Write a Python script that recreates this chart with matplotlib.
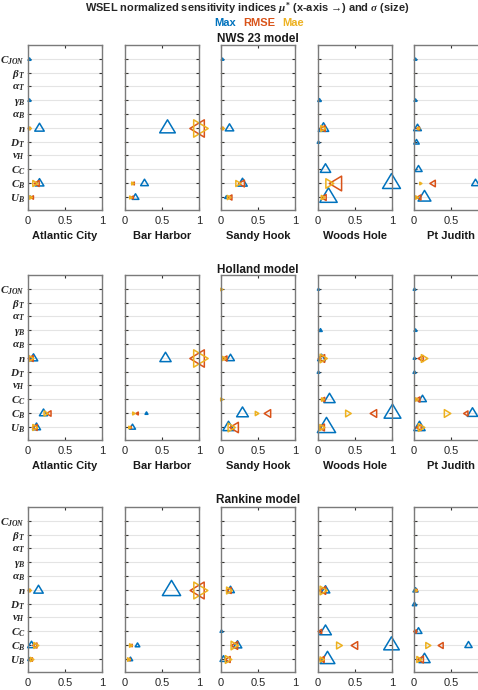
import matplotlib
matplotlib.use('Agg')
import matplotlib.pyplot as plt
from matplotlib.path import Path

plt.rcParams['mathtext.fontset'] = 'custom'
plt.rcParams['mathtext.it'] = 'Liberation Serif:italic:bold'
plt.rcParams['mathtext.rm'] = 'Liberation Serif:bold'
plt.rcParams['mathtext.bf'] = 'Liberation Serif:bold'
plt.rcParams['font.family'] = ['Liberation Sans', 'DejaVu Sans']

# ---------------- data ----------------
params = [r'$C_{JON}$', r'$\beta_{T}$', r'$\alpha_{T}$', r'$\gamma_{B}$', r'$\alpha_{B}$', r'$n$',
          r'$D_{T}$', r'$\nu_{H}$', r'$C_{C}$', r'$C_{B}$', r'$U_{B}$']
stations = ['Atlantic City', 'Bar Harbor', 'Sandy Hook', 'Woods Hole', 'Pt Judith']
models = ['NWS 23 model', 'Holland model', 'Rankine model']
metrics = ['Max', 'RMSE', 'Mae']
xticks = [0, 0.5, 1]
xticklabels = ['0', '0.5', '1']

# order of each row: C_JON, beta_T, alpha_T, gamma_B, alpha_B, n, D_T, nu_H, C_C, C_B, U_B
# ---- NWS 23 ----
nws_max_mu = [[0.01, 0, 0, 0.01, 0, 0.15, 0, 0, 0, 0.15, 0.03],
              [0, 0, 0, 0, 0, 0.57, 0, 0, 0, 0.26, 0.135],
              [0.01, 0, 0, 0, 0, 0.11, 0, 0, 0, 0.28, 0.07],
              [0, 0, 0, 0.02, 0, 0.07, 0.0, 0, 0.09, 0.99, 0.14],
              [0.01, 0, 0, 0.02, 0, 0.04, 0.03, 0, 0.05, 0.82, 0.14]]
nws_max_sig = [[0.12, 0, 0, 0.12, 0, 0.5, 0, 0, 0, 0.46, 0.1],
               [0, 0, 0, 0, 0, 0.85, 0, 0, 0, 0.4, 0.34],
               [0.1, 0, 0, 0, 0, 0.44, 0, 0, 0, 0.5, 0.15],
               [0, 0, 0, 0.15, 0, 0.55, 0.1, 0, 0.55, 0.98, 0.95],
               [0.1, 0, 0, 0.12, 0, 0.4, 0.27, 0, 0.37, 0.4, 0.69]]
nws_rmse_mu = [[0, 0, 0, 0, 0, 0.02, 0, 0, 0, 0.12, 0.05],
               [0, 0, 0, 0, 0, 1.0, 0, 0, 0, 0.11, 0.09],
               [0, 0, 0, 0, 0, 0.02, 0, 0, 0, 0.28, 0.12],
               [0, 0, 0, 0, 0, 0.07, 0, 0, 0, 0.25, 0.08],
               [0, 0, 0, 0, 0, 0.06, 0, 0, 0, 0.26, 0.07]]
nws_rmse_sig = [[0, 0, 0, 0, 0, 0.1, 0, 0, 0, 0.3, 0.15],
                [0, 0, 0, 0, 0, 0.95, 0, 0, 0, 0.12, 0.12],
                [0, 0, 0, 0, 0, 0.1, 0, 0, 0, 0.35, 0.25],
                [0, 0, 0, 0, 0, 0.3, 0, 0, 0, 0.8, 0.3],
                [0, 0, 0, 0, 0, 0.15, 0, 0, 0, 0.33, 0.25]]
nws_mae_mu = [[0, 0, 0, 0, 0, 0.02, 0, 0, 0, 0.08, 0.03],
              [0, 0, 0, 0, 0, 0.98, 0, 0, 0, 0.1, 0.07],
              [0, 0, 0, 0, 0, 0.02, 0, 0, 0, 0.22, 0.1],
              [0, 0, 0, 0, 0, 0.06, 0, 0, 0, 0.14, 0.05],
              [0, 0, 0, 0, 0, 0.05, 0, 0, 0, 0.08, 0.03]]
nws_mae_sig = [[0, 0, 0, 0, 0, 0.15, 0, 0, 0, 0.3, 0.15],
               [0, 0, 0, 0, 0, 0.95, 0, 0, 0, 0.12, 0.12],
               [0, 0, 0, 0, 0, 0.15, 0, 0, 0, 0.3, 0.2],
               [0, 0, 0, 0, 0, 0.3, 0, 0, 0, 0.5, 0.2],
               [0, 0, 0, 0, 0, 0.1, 0, 0, 0, 0.1, 0.15]]

# ---- Holland ----
hol_max_mu = [[0, 0, 0, 0, 0, 0.07, 0, 0, 0, 0.2, 0.11],
              [0, 0, 0, 0, 0, 0.54, 0, 0, 0, 0.29, 0.1],
              [0, 0, 0, 0, 0, 0.12, 0, 0, 0, 0.28, 0.09],
              [0, 0, 0, 0.03, 0, 0.04, 0.0, 0, 0.15, 1.0, 0.11],
              [0.0, 0, 0, 0.02, 0, 0.0, 0.0, 0, 0.11, 0.79, 0.07]]
hol_max_sig = [[0, 0, 0, 0, 0, 0.44, 0, 0, 0, 0.42, 0.42],
               [0, 0, 0, 0, 0, 0.6, 0, 0, 0, 0.12, 0.3],
               [0, 0, 0, 0, 0, 0.4, 0, 0, 0, 0.63, 0.6],
               [0.08, 0, 0, 0.15, 0, 0.4, 0.1, 0, 0.6, 0.92, 1.0],
               [0.1, 0, 0, 0.12, 0, 0.1, 0.12, 0, 0.4, 0.55, 0.6]]
hol_rmse_mu = [[0, 0, 0, 0, 0, 0.04, 0, 0, 0, 0.29, 0.1],
               [0, 0, 0, 0, 0, 1.0, 0, 0, 0, 0.16, 0.07],
               [0, 0, 0, 0, 0, 0.05, 0, 0, 0, 0.64, 0.19],
               [0, 0, 0, 0, 0, 0.05, 0, 0, 0.07, 0.75, 0.06],
               [0, 0, 0, 0, 0, 0.1, 0, 0, 0.05, 0.7, 0.07]]
hol_rmse_sig = [[0, 0, 0, 0, 0, 0.3, 0, 0, 0, 0.27, 0.3],
                [0, 0, 0, 0, 0, 0.95, 0, 0, 0, 0.12, 0.1],
                [0, 0, 0, 0, 0, 0.25, 0, 0, 0, 0.4, 0.55],
                [0, 0, 0, 0, 0, 0.4, 0, 0, 0.2, 0.4, 0.35],
                [0, 0, 0, 0, 0, 0.3, 0, 0, 0.25, 0.25, 0.3]]
hol_mae_mu = [[0, 0, 0, 0, 0, 0.03, 0, 0, 0, 0.23, 0.08],
              [0, 0, 0, 0, 0, 0.99, 0, 0, 0, 0.11, 0.05],
              [0.0, 0, 0, 0, 0, 0.03, 0, 0, 0.0, 0.47, 0.12],
              [0, 0, 0, 0, 0, 0.06, 0, 0, 0.05, 0.39, 0.04],
              [0, 0, 0, 0, 0, 0.12, 0, 0, 0.03, 0.43, 0.08]]
hol_mae_sig = [[0, 0, 0, 0, 0, 0.3, 0, 0, 0, 0.25, 0.3],
               [0, 0, 0, 0, 0, 0.95, 0, 0, 0, 0.12, 0.1],
               [0.1, 0, 0, 0, 0, 0.2, 0, 0, 0.12, 0.2, 0.45],
               [0, 0, 0, 0, 0, 0.45, 0, 0, 0.15, 0.34, 0.3],
               [0, 0, 0, 0, 0, 0.4, 0, 0, 0.15, 0.4, 0.4]]

# ---- Rankine ----
ran_max_mu = [[0, 0, 0, 0, 0, 0.14, 0, 0, 0, 0.04, 0.02],
              [0, 0, 0, 0, 0, 0.62, 0, 0, 0, 0.16, 0.07],
              [0, 0, 0, 0, 0, 0.12, 0, 0, 0.0, 0.21, 0.03],
              [0, 0, 0, 0, 0, 0.09, 0, 0, 0.1, 0.99, 0.12],
              [0, 0, 0, 0, 0, 0.02, 0.0, 0, 0.05, 0.73, 0.13]]
ran_max_sig = [[0, 0, 0, 0, 0, 0.5, 0, 0, 0, 0.4, 0.15],
               [0, 0, 0, 0, 0, 1.0, 0, 0, 0, 0.22, 0.2],
               [0, 0, 0, 0, 0, 0.4, 0, 0, 0.12, 0.45, 0.35],
               [0, 0, 0, 0, 0, 0.45, 0, 0, 0.63, 0.85, 0.8],
               [0, 0, 0, 0, 0, 0.25, 0.2, 0, 0.35, 0.37, 0.6]]
ran_rmse_mu = [[0, 0, 0, 0, 0, 0.02, 0, 0, 0, 0.09, 0.04],
               [0, 0, 0, 0, 0, 1.0, 0, 0, 0, 0.08, 0.05],
               [0, 0, 0, 0, 0, 0.11, 0, 0, 0, 0.19, 0.09],
               [0, 0, 0, 0, 0, 0.07, 0, 0, 0.03, 0.5, 0.06],
               [0, 0, 0, 0, 0, 0.03, 0, 0, 0.02, 0.36, 0.09]]
ran_rmse_sig = [[0, 0, 0, 0, 0, 0.1, 0, 0, 0, 0.25, 0.15],
                [0, 0, 0, 0, 0, 0.92, 0, 0, 0, 0.1, 0.1],
                [0, 0, 0, 0, 0, 0.3, 0, 0, 0, 0.4, 0.3],
                [0, 0, 0, 0, 0, 0.4, 0, 0, 0.2, 0.4, 0.3],
                [0, 0, 0, 0, 0, 0.1, 0, 0, 0.15, 0.3, 0.35]]
ran_mae_mu = [[0, 0, 0, 0, 0, 0.02, 0, 0, 0, 0.1, 0.04],
              [0, 0, 0, 0, 0, 0.98, 0, 0, 0, 0.07, 0.04],
              [0, 0, 0, 0, 0, 0.1, 0, 0, 0, 0.16, 0.08],
              [0, 0, 0, 0, 0, 0.05, 0, 0, 0, 0.27, 0.04],
              [0, 0, 0, 0, 0, 0.02, 0, 0, 0, 0.18, 0.05]]
ran_mae_sig = [[0, 0, 0, 0, 0, 0.15, 0, 0, 0, 0.3, 0.2],
               [0, 0, 0, 0, 0, 0.92, 0, 0, 0, 0.15, 0.15],
               [0, 0, 0, 0, 0, 0.35, 0, 0, 0, 0.45, 0.4],
               [0, 0, 0, 0, 0, 0.45, 0, 0, 0, 0.35, 0.25],
               [0, 0, 0, 0, 0, 0.15, 0, 0, 0, 0.3, 0.3]]

model_data = [
    [(nws_max_mu, nws_max_sig), (nws_rmse_mu, nws_rmse_sig), (nws_mae_mu, nws_mae_sig)],
    [(hol_max_mu, hol_max_sig), (hol_rmse_mu, hol_rmse_sig), (hol_mae_mu, hol_mae_sig)],
    [(ran_max_mu, ran_max_sig), (ran_rmse_mu, ran_rmse_sig), (ran_mae_mu, ran_mae_sig)],
]

# ---------------- style ----------------
colors = ['#0072BD', '#D95319', '#EDB120']


def tri(verts):
    # closed triangle centred on its centroid (so '<' and '>' overlap into a star, like MATLAB)
    return Path(verts + [verts[0]], closed=True)


markers = [tri([(0, 1), (-0.9, -0.5), (0.9, -0.5)]),
           tri([(-1, 0), (0.5, 0.9), (0.5, -0.9)]),
           tri([(1, 0), (-0.5, 0.9), (-0.5, -0.9)])]
W, H = 478, 690
col_left = [28, 125, 221, 318, 414]
col_w = 74
row_top = [45, 275, 507]
row_h = 165
model_title_y = [39, 270, 500]

fig = plt.figure(figsize=(W / 100, H / 100), dpi=100)

fig.text(247 / W, 1 - 9 / H,
         'WSEL normalized sensitivity indices $\\mu^{*}$ (x-axis \u2192) and $\\sigma$ (size)',
         ha='center', va='center', fontsize=7.9, fontweight='bold', color='#262626')
for lbl, xc, c in zip(metrics, [225, 259, 293], colors):
    fig.text(xc / W, 1 - 22.5 / H, lbl, ha='center', va='center', fontsize=8,
             fontweight='bold', color=c)

ypos = list(range(1, len(params) + 1))

for r, model in enumerate(models):
    fig.text(258 / W, 1 - model_title_y[r] / H, model, ha='center', va='center',
             fontsize=8.5, fontweight='bold', color='#1a1a1a')
    for c, st in enumerate(stations):
        ax = fig.add_axes([col_left[c] / W, 1 - (row_top[r] + row_h) / H, col_w / W, row_h / H])
        for m in range(3):
            mu, sig = model_data[r][m]
            for i in range(len(params)):
                s = sig[c][i]
                ax.plot(mu[c][i], ypos[i], marker=markers[m], ms=0.6 + 14.0 * s,
                        mfc='none', mec=colors[m], mew=1.1 if s > 0.05 else 0.5,
                        ls='none', clip_on=False, zorder=2)
        ax.set_xlim(0, 1)
        ax.set_ylim(11.95, 0)
        ax.set_xticks(xticks)
        if c == len(stations) - 1:
            ax.set_xticklabels(xticklabels[:-1] + [''])
        else:
            ax.set_xticklabels(xticklabels)
        ax.set_yticks(ypos)
        if c == 0:
            ax.set_yticklabels(params, fontsize=11)
        else:
            ax.set_yticklabels([])
        ax.yaxis.grid(True, color='#e4e4e4', lw=0.8)
        ax.set_axisbelow(True)
        ax.tick_params(direction='in', top=True, right=True, length=2.5, width=0.8,
                       color='#333333', labelsize=8, labelcolor='#262626', pad=2)
        ax.tick_params(axis='x', pad=4)
        for sp in ax.spines.values():
            sp.set_color('#7a7a7a')
            sp.set_linewidth(1.0)
            sp.set_zorder(2.5)
        if r < 2:
            ax.set_xlabel(st, fontsize=8, fontweight='bold', labelpad=4, color='#1a1a1a')

fig.savefig('out.png', dpi=100)
